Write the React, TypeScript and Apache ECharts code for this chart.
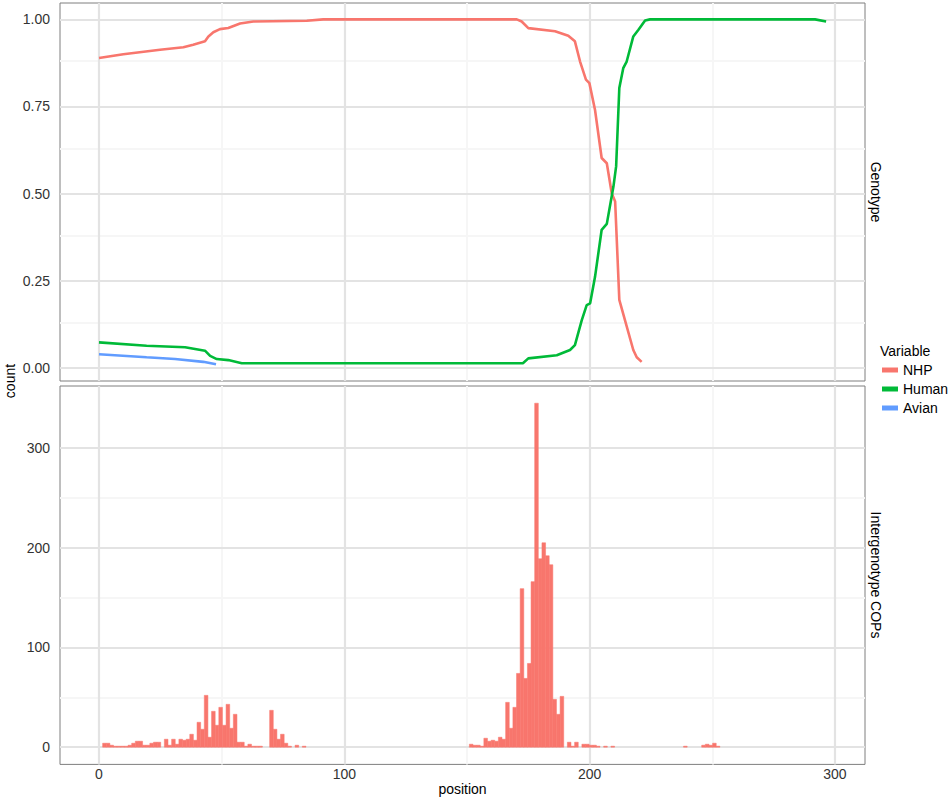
import React, { useEffect, useRef } from 'react';
import * as echarts from 'echarts';

const FONT = "'Liberation Sans', Arial, Helvetica, sans-serif";

// Axis ticks / labels
const X_TICKS = [0, 100, 200, 300];
const X_MINOR = [50, 150, 250];
const GENO_TICKS = [0, 0.25, 0.5, 0.75, 1.0];
const GENO_MINOR = [0.125, 0.375, 0.625, 0.875];
const COP_TICKS = [0, 100, 200, 300];
const COP_MINOR = [50, 150, 250];

const X_MIN = -15.9;
const X_MAX = 312.25;
const GENO_MIN = -0.038;
const GENO_MAX = 1.047;
const COP_MIN = -17.25;
const COP_MAX = 362.25;

// Genotype panel: NHP
const nhpPos = [0, 9.9, 24.9, 34.4, 38.4, 43.2, 44.6, 46.6, 49.3, 52.7, 57.5, 62.9, 84.7, 91.4, 170.3, 172.3, 175, 185.9, 191.3, 194, 196.1, 198.5, 199.9, 202.2, 204.9, 207, 209, 210.4, 212.1, 214.4, 217.8, 219.2, 221.2];
const nhpVal = [0.889, 0.9, 0.913, 0.92, 0.927, 0.937, 0.951, 0.963, 0.972, 0.975, 0.988, 0.994, 0.996, 1.0, 1.0, 0.994, 0.975, 0.966, 0.953, 0.937, 0.879, 0.827, 0.817, 0.74, 0.602, 0.587, 0.501, 0.477, 0.195, 0.137, 0.051, 0.03, 0.017];

// Genotype panel: Human
const humanPos = [0, 19.4, 35.1, 43.2, 45.3, 48, 52.7, 58.2, 172.8, 175, 186.6, 192, 194, 196.8, 198.8, 200.2, 202.2, 204.9, 207, 209.7, 210.8, 212.1, 213.7, 215.1, 217.8, 219.9, 222.6, 224.6, 291.9, 296.4];
const humanVal = [0.073, 0.063, 0.059, 0.049, 0.034, 0.025, 0.022, 0.013, 0.013, 0.027, 0.036, 0.051, 0.065, 0.137, 0.18, 0.185, 0.261, 0.396, 0.413, 0.52, 0.578, 0.803, 0.86, 0.879, 0.951, 0.97, 0.997, 1.0, 1.0, 0.994];

// Genotype panel: Avian
const avianPos = [0, 19.4, 31, 42.5, 47.7];
const avianVal = [0.039, 0.03, 0.025, 0.017, 0.01];

// Intergenotype COPs histogram (bin i starts at i * BIN_WIDTH)
const BIN_WIDTH = 1.48;
const copCounts = [
  0, 4, 4, 2, 1, 1, 1, 1, 2, 4,
  6, 6, 2, 2, 4, 5, 5, 0, 8, 2,
  8, 3, 8, 7, 8, 13, 7, 25, 18, 52,
  10, 36, 22, 40, 22, 43, 19, 33, 5, 5,
  1, 3, 1, 1, 1, 0, 0, 37, 18, 8,
  13, 4, 1, 0, 2, 0, 1, 0, 0, 0,
  0, 0, 0, 0, 0, 0, 0, 0, 0, 0,
  0, 0, 0, 0, 0, 0, 0, 0, 0, 0,
  0, 0, 0, 0, 0, 0, 0, 0, 0, 0,
  0, 0, 0, 0, 0, 0, 0, 0, 0, 0,
  0, 0, 3, 2, 2, 1, 9, 6, 7, 6,
  10, 8, 45, 19, 40, 74, 159, 69, 84, 166,
  345, 189, 205, 192, 183, 48, 33, 51, 0, 5,
  1, 5, 0, 3, 3, 2, 2, 1, 0, 1,
  0, 1, 0, 0, 0, 0, 0, 0, 0, 0,
  0, 0, 0, 0, 0, 0, 0, 0, 0, 0,
  0, 1, 0, 0, 0, 0, 2, 3, 2, 4,
  1,
];

const SERIES_NAMES = ['NHP', 'Human', 'Avian'];
const COLORS = ['#F8766D', '#00BA38', '#619CFF'];

const MAJOR = '#e3e3e3';
const MINOR = '#f6f6f6';
const BORDER = '#7f7f7f';

function gridLines(xMajor: number[], xMinor: number[], yMajor: number[], yMinor: number[]) {
  const d: any[] = [];
  xMinor.forEach((v) => d.push({ xAxis: v, lineStyle: { color: MINOR, width: 2, type: 'solid' } }));
  yMinor.forEach((v) => d.push({ yAxis: v, lineStyle: { color: MINOR, width: 2, type: 'solid' } }));
  xMajor.forEach((v) => d.push({ xAxis: v, lineStyle: { color: MAJOR, width: 2.2, type: 'solid' } }));
  yMajor.forEach((v) => d.push({ yAxis: v, lineStyle: { color: MAJOR, width: 2.2, type: 'solid' } }));
  return d;
}

export default function App() {
  const ref = useRef<HTMLDivElement>(null);

  useEffect(() => {
    if (!ref.current) return;
    const chart = echarts.init(ref.current, null, { renderer: 'svg' });

    const axisText = { fontFamily: FONT, fontSize: 14, color: '#333' };

    const option: any = {
      animation: false,
      textStyle: { fontFamily: FONT },
      grid: [
        { left: 60, top: 3, width: 805, height: 378, show: true, borderColor: BORDER, borderWidth: 1, backgroundColor: '#fff' },
        { left: 60, top: 386, width: 805, height: 378.4, show: true, borderColor: BORDER, borderWidth: 1, backgroundColor: '#fff' },
      ],
      xAxis: [
        {
          type: 'value', gridIndex: 0, min: X_MIN, max: X_MAX,
          axisLine: { show: false },
          axisTick: { show: false, customValues: X_TICKS },
          axisLabel: { show: false, customValues: X_TICKS },
          splitLine: { show: false },
        },
        {
          type: 'value', gridIndex: 1, min: X_MIN, max: X_MAX,
          axisLine: { show: false },
          axisTick: { show: true, customValues: X_TICKS, length: 5, lineStyle: { color: BORDER, width: 1 } },
          axisLabel: { show: true, customValues: X_TICKS, margin: 3, ...axisText },
          splitLine: { show: false },
          name: 'position', nameLocation: 'middle', nameGap: 17,
          nameTextStyle: { fontFamily: FONT, fontSize: 14, color: '#000' },
        },
      ],
      yAxis: [
        {
          type: 'value', gridIndex: 0, min: GENO_MIN, max: GENO_MAX,
          axisLine: { show: false },
          axisTick: { show: true, customValues: GENO_TICKS, length: 5, lineStyle: { color: BORDER, width: 1 } },
          axisLabel: { show: true, customValues: GENO_TICKS, margin: 10, formatter: (v: number) => v.toFixed(2), ...axisText },
          splitLine: { show: false },
        },
        {
          type: 'value', gridIndex: 1, min: COP_MIN, max: COP_MAX,
          axisLine: { show: false },
          axisTick: { show: true, customValues: COP_TICKS, length: 5, lineStyle: { color: BORDER, width: 1 } },
          axisLabel: { show: true, customValues: COP_TICKS, margin: 10, ...axisText },
          splitLine: { show: false },
        },
      ],
      legend: {
        data: SERIES_NAMES,
        orient: 'vertical',
        left: 882,
        top: 363,
        padding: 0,
        icon: 'rect',
        itemWidth: 16,
        itemHeight: 5,
        itemGap: 5,
        selectedMode: false,
        textStyle: { fontFamily: FONT, fontSize: 14, color: '#000', lineHeight: 14 },
      },
      graphic: [
        { type: 'text', x: 10, y: 381, rotation: Math.PI / 2, style: { text: 'count', font: `14px ${FONT}`, fill: '#000', align: 'center', verticalAlign: 'middle' } },
        { type: 'text', rotation: -Math.PI / 2, x: 876, y: 192, style: { text: 'Genotype', font: `14px ${FONT}`, fill: '#000', align: 'center', verticalAlign: 'middle' } },
        { type: 'text', rotation: -Math.PI / 2, x: 876, y: 575, style: { text: 'Intergenotype COPs', font: `14px ${FONT}`, fill: '#000', align: 'center', verticalAlign: 'middle' } },
        { type: 'text', x: 880, y: 351, style: { text: 'Variable', font: `14px ${FONT}`, fill: '#000', align: 'left', verticalAlign: 'middle' } },
      ],
      series: [
        {
          type: 'line', name: '_grid0', xAxisIndex: 0, yAxisIndex: 0, z: 1,
          data: [], silent: true, showSymbol: false,
          markLine: { z: 1, silent: true, symbol: ['none', 'none'], label: { show: false }, animation: false, data: gridLines(X_TICKS, X_MINOR, GENO_TICKS, GENO_MINOR) },
        },
        {
          type: 'line', name: '_grid1', xAxisIndex: 1, yAxisIndex: 1, z: 1,
          data: [], silent: true, showSymbol: false,
          markLine: { z: 1, silent: true, symbol: ['none', 'none'], label: { show: false }, animation: false, data: gridLines(X_TICKS, X_MINOR, COP_TICKS, COP_MINOR) },
        },
        ...[
          [nhpPos, nhpVal],
          [humanPos, humanVal],
          [avianPos, avianVal],
        ].map(([p, v], k) => ({
          type: 'line',
          name: SERIES_NAMES[k],
          xAxisIndex: 0,
          yAxisIndex: 0,
          z: 3,
          data: (p as number[]).map((x, i) => [x, (v as number[])[i]]),
          showSymbol: false,
          symbol: 'none',
          lineStyle: { color: COLORS[k], width: 2.6 },
          itemStyle: { color: COLORS[k] },
        })),
        {
          type: 'custom',
          name: 'COPs',
          xAxisIndex: 1,
          yAxisIndex: 1,
          z: 2,
          data: copCounts.map((c, i) => [i * BIN_WIDTH, c]).filter((d) => d[1] > 0),
          encode: { x: 0, y: 1 },
          renderItem: (params: any, api: any) => {
            const x0 = api.value(0);
            const y = api.value(1);
            const p0 = api.coord([x0, y]);
            const p1 = api.coord([x0 + BIN_WIDTH, 0]);
            return {
              type: 'rect',
              shape: { x: p0[0], y: p0[1], width: p1[0] - p0[0], height: p1[1] - p0[1] },
              style: { fill: '#F8766D', stroke: '#F8766D', lineWidth: 0.5 },
            };
          },
        },
      ],
    };

    chart.setOption(option);
    return () => chart.dispose();
  }, []);

  return <div ref={ref} style={{ position: 'absolute', left: 0, top: 0, width: 950, height: 800 }} />;
}
